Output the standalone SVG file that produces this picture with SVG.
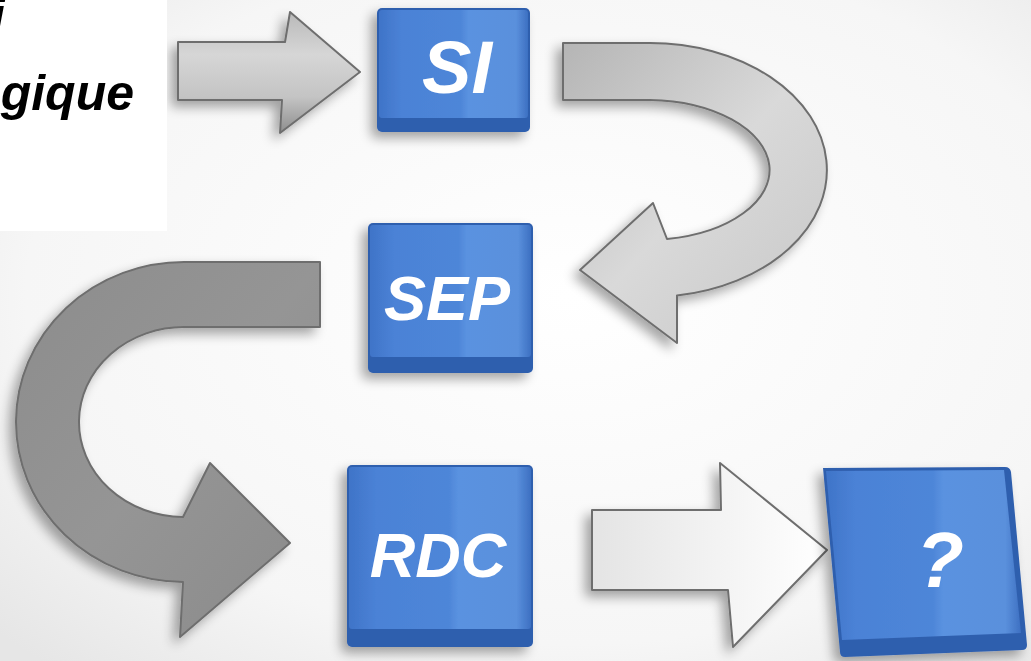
<svg xmlns="http://www.w3.org/2000/svg" width="1031" height="661" viewBox="0 0 1031 661">
<defs>
<radialGradient id="bg" cx="0.55" cy="0.45" r="0.75">
<stop offset="0" stop-color="#ffffff"/>
<stop offset="0.7" stop-color="#f6f6f6"/>
<stop offset="1" stop-color="#e6e6e6"/>
</radialGradient>
<linearGradient id="blueFace" x1="0" y1="0" x2="1" y2="0">
<stop offset="0" stop-color="#3f74c8"/>
<stop offset="0.15" stop-color="#4b82d6"/>
<stop offset="0.55" stop-color="#4e86d8"/>
<stop offset="0.6" stop-color="#5a92e0"/>
<stop offset="0.92" stop-color="#5a90dc"/>
<stop offset="1" stop-color="#3d70c2"/>
</linearGradient>
<linearGradient id="grayLight" x1="0" y1="0" x2="0" y2="1">
<stop offset="0" stop-color="#b9b9b9"/>
<stop offset="0.35" stop-color="#d6d6d6"/>
<stop offset="0.7" stop-color="#c4c4c4"/>
<stop offset="1" stop-color="#8e8e8e"/>
</linearGradient>
<linearGradient id="grayCurve" x1="0" y1="0" x2="1" y2="1">
<stop offset="0" stop-color="#b5b5b5"/>
<stop offset="0.5" stop-color="#d9d9d9"/>
<stop offset="1" stop-color="#c6c6c6"/>
</linearGradient>
<linearGradient id="grayDark" x1="0" y1="0" x2="1" y2="1">
<stop offset="0" stop-color="#8c8c8c"/>
<stop offset="0.5" stop-color="#959595"/>
<stop offset="1" stop-color="#8a8a8a"/>
</linearGradient>
<linearGradient id="grayWhite" x1="0" y1="0" x2="1" y2="0">
<stop offset="0" stop-color="#e4e4e4"/>
<stop offset="0.5" stop-color="#f2f2f2"/>
<stop offset="1" stop-color="#ffffff"/>
</linearGradient>
<filter id="shadow" x="-20%" y="-20%" width="140%" height="140%">
<feGaussianBlur in="SourceAlpha" stdDeviation="6"/>
<feOffset dx="-6" dy="6" result="b"/>
<feComponentTransfer><feFuncA type="linear" slope="0.35"/></feComponentTransfer>
<feMerge><feMergeNode/><feMergeNode in="SourceGraphic"/></feMerge>
</filter>
<style>
.lbl{font-family:"Liberation Sans",Arial,sans-serif;font-weight:bold;font-style:italic;fill:#ffffff;text-anchor:middle}
.ttl{font-family:"Liberation Sans",Arial,sans-serif;font-weight:bold;font-style:italic;fill:#000000;font-size:50px}
.edge{fill:#2f5fae}
.face{fill:url(#blueFace)}
.arr{stroke:#6e6e6e;stroke-width:2;stroke-linejoin:round}
</style>
</defs>
<rect width="1031" height="661" fill="url(#bg)"/>

<g id="connectors" filter="url(#shadow)">
<path id="arrow-start-si" class="arr" fill="url(#grayLight)" d="M178,42 L285,42 L290,12 L360,72 L280,133 L282,100 L178,100 Z"/>
<path id="arrow-si-sep" class="arr" fill="url(#grayCurve)" d="M563,43 L650,43 A177,127 0 0 1 677,295.5 L677,343 L580,270 L653,203 L667,239 A123,70 0 0 0 650,100 L563,100 Z"/>
<path id="arrow-sep-rdc" class="arr" fill="url(#grayDark)" d="M320,262 L185,262 A168,160 0 0 0 183,582 L180,637 L290,543 L210,463 L183,517 A105,95 0 0 1 185,327 L320,327 Z"/>
<path id="arrow-rdc-q" class="arr" fill="url(#grayWhite)" d="M592,510 L721,510 L720,463 L827,550 L733,647 L728,590 L592,590 Z"/>
</g>

<g id="title-panel">
<rect x="0" y="0" width="167" height="231" fill="#ffffff"/>
<text class="ttl" x="5" y="33" text-anchor="end">i</text>
<text class="ttl" x="134" y="110" text-anchor="end">gique</text>
</g>

<g id="node-si" filter="url(#shadow)">
<rect class="edge" x="377" y="8" width="153" height="124" rx="5"/>
<rect class="face" x="379" y="10" width="149" height="108" rx="3"/>
<text class="lbl" x="457" y="93" font-size="74">SI</text>
</g>

<g id="node-sep" filter="url(#shadow)">
<rect class="edge" x="368" y="223" width="165" height="150" rx="5"/>
<rect class="face" x="370" y="225" width="161" height="132" rx="3"/>
<text class="lbl" x="447" y="320" font-size="63">SEP</text>
</g>

<g id="node-rdc" filter="url(#shadow)">
<rect class="edge" x="347" y="465" width="186" height="182" rx="5"/>
<rect class="face" x="349" y="467" width="182" height="162" rx="3"/>
<text class="lbl" x="438" y="577" font-size="63">RDC</text>
</g>

<g id="node-q" filter="url(#shadow)">
<path class="edge" d="M823,468 L1005,467 Q1010,467 1011,472 L1027,645 Q1027,650 1022,650 L845,657 Q840,657 840,652 Z"/>
<path class="face" d="M826,471 L1004,470 L1021,633 L842,640 Z"/>
<text class="lbl" x="940" y="587" font-size="78">?</text>
</g>
</svg>
